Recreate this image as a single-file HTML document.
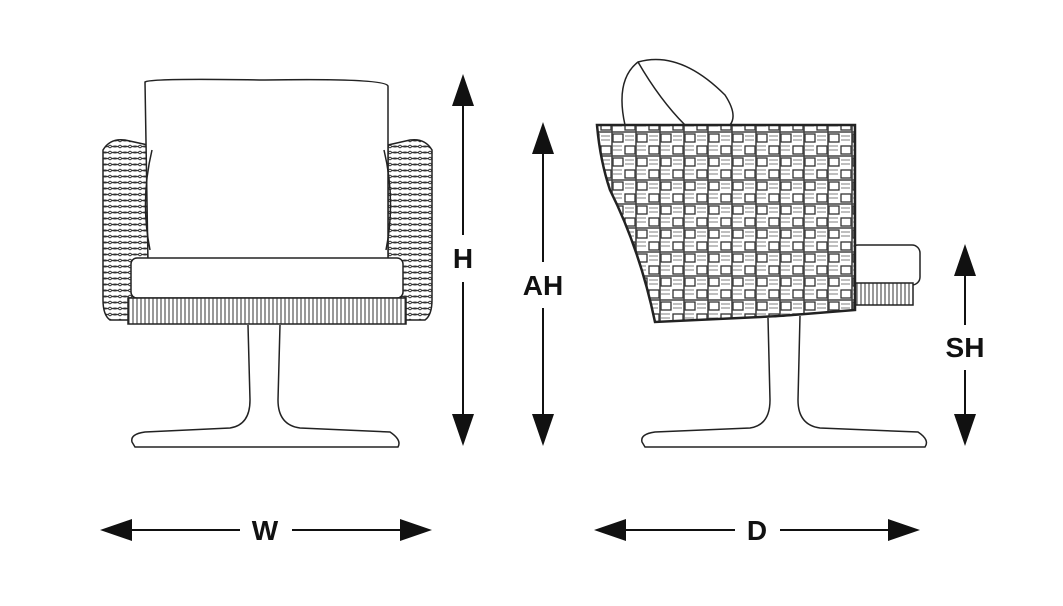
<!DOCTYPE html>
<html><head><meta charset="utf-8"><style>
html,body{margin:0;padding:0;background:#fff;}
svg{display:block;}
text{font-family:"Liberation Sans",sans-serif;font-weight:bold;font-size:28px;fill:#111;}
</style></head><body>
<svg width="1063" height="606" viewBox="0 0 1063 606" xmlns="http://www.w3.org/2000/svg">
<defs>
<pattern id="weave" x="0" y="0" width="24" height="24" patternUnits="userSpaceOnUse">
<rect width="24" height="24" fill="#fff"/>
<rect x="1" y="2" width="10" height="8" fill="none" stroke="#333" stroke-width="1.3"/>
<rect x="13" y="14" width="10" height="8" fill="none" stroke="#333" stroke-width="1.3"/>
<path d="M12 0V12M0 12H24M12 12V24" stroke="#444" stroke-width="1.6"/>
<path d="M13 2h9M13 6h9M1 16h9M1 20h9" stroke="#555" stroke-width="0.8"/>
</pattern>
<pattern id="rope" x="0" y="0" width="10" height="6" patternUnits="userSpaceOnUse">
<rect width="10" height="6" fill="#fff"/>
<path d="M0 1 Q5 5 10 1M0 4 Q5 0 10 4" stroke="#333" stroke-width="1" fill="none"/>
</pattern>
<pattern id="band" x="0" y="0" width="4" height="10" patternUnits="userSpaceOnUse">
<rect width="4" height="10" fill="#fff"/>
<path d="M1 0V10" stroke="#333" stroke-width="1"/>
</pattern>
</defs>
<g fill="none" stroke="#222" stroke-width="1.5">
<!-- FRONT CHAIR -->
<path d="M103 150 Q110 138 125 140 L148 145 L148 320 L110 320 Q103 315 103 300 Z" fill="url(#rope)"/>
<path d="M432 150 Q425 138 410 140 L388 145 L388 320 L425 320 Q432 315 432 300 Z" fill="url(#rope)"/>
<path d="M145 82 Q150 78 265 80 Q385 78 388 86 L388 262 L148 262 L145 82Z" fill="#fff"/>
<path d="M152 150 Q140 200 150 250M384 150 Q396 200 386 250"/>
<rect x="131" y="258" width="272" height="40" rx="6" fill="#fff"/>
<rect x="128" y="298" width="278" height="26" fill="url(#band)"/>
<path d="M248 325 L250 400 Q250 425 230 428 L145 432 Q130 434 132 442 L135 447 L398 447 Q402 440 390 432 L300 428 Q278 425 278 400 L280 325" fill="#fff"/>
<!-- SIDE CHAIR -->
<path d="M625 125 Q615 80 638 62 Q680 50 725 95 Q738 115 730 125 Z" fill="#fff"/>
<path d="M638 62 Q660 100 685 125"/>
<rect x="850" y="245" width="70" height="40" rx="8" fill="#fff"/>
<rect x="855" y="283" width="58" height="22" fill="url(#band)"/>
<path d="M597 125 L855 125 L855 310 L780 316 L655 322 Q640 250 610 190 Q600 160 597 125Z" fill="url(#weave)" stroke-width="2.5"/>
<path d="M768 318 L770 400 Q770 425 750 428 L655 432 Q640 434 642 442 L645 447 L925 447 Q930 440 918 432 L820 428 Q798 425 798 400 L800 316" fill="#fff"/>
</g>
<!-- DIMENSIONS -->
<g stroke="#111" stroke-width="2">
<line x1="463" y1="100" x2="463" y2="235"/><line x1="463" y1="282" x2="463" y2="420"/>
<line x1="543" y1="148" x2="543" y2="262"/><line x1="543" y1="308" x2="543" y2="420"/>
<line x1="965" y1="272" x2="965" y2="325"/><line x1="965" y1="370" x2="965" y2="420"/>
<line x1="128" y1="530" x2="240" y2="530"/><line x1="292" y1="530" x2="405" y2="530"/>
<line x1="622" y1="530" x2="735" y2="530"/><line x1="780" y1="530" x2="892" y2="530"/>
</g>
<g fill="#111">
<polygon points="463,74 452,106 474,106"/><polygon points="463,446 452,414 474,414"/>
<polygon points="543,122 532,154 554,154"/><polygon points="543,446 532,414 554,414"/>
<polygon points="965,244 954,276 976,276"/><polygon points="965,446 954,414 976,414"/>
<polygon points="100,530 132,519 132,541"/><polygon points="432,530 400,519 400,541"/>
<polygon points="594,530 626,519 626,541"/><polygon points="920,530 888,519 888,541"/>
</g>
<text x="463" y="268" text-anchor="middle">H</text>
<text x="543" y="295" text-anchor="middle">AH</text>
<text x="965" y="357" text-anchor="middle">SH</text>
<text x="265" y="540" text-anchor="middle">W</text>
<text x="757" y="540" text-anchor="middle">D</text>
</svg>
</body></html>
